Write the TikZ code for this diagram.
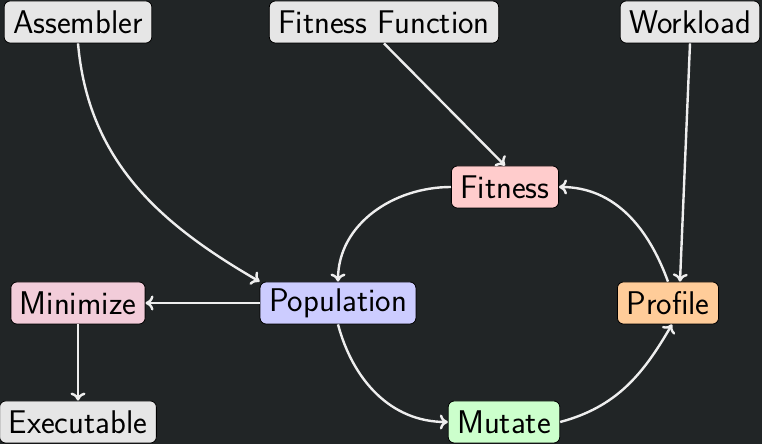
\documentclass[tikz,border=0pt]{standalone}
\usetikzlibrary{arrows.meta,calc}
\definecolor{bg}{HTML}{212526}
\definecolor{edgecol}{HTML}{EEEEEE}
\definecolor{cgray}{HTML}{E6E6E6}
\definecolor{cpink}{HTML}{FFCCCC}
\definecolor{cblue}{HTML}{CCCCFF}
\definecolor{corange}{HTML}{FFCC99}
\definecolor{cgreen}{HTML}{CCFFCC}
\definecolor{crose}{HTML}{F2CCD9}
\begin{document}
\begin{tikzpicture}[x=0.5pt,y=-0.5pt,
  box/.style={draw=black,line width=0.4pt,rounded corners=3pt,
    minimum height=21pt,inner xsep=4.5pt,inner ysep=2pt,
    font=\sffamily\fontsize{16.4}{19}\selectfont,text=black},
  link/.style={draw=edgecol,line width=1.2pt,-{To[length=4pt,width=7.5pt]}}]
  \fill[bg] (0,0) rectangle (762,444);
  \useasboundingbox (0,0) rectangle (762,444);
  % inputs
  \node[box,fill=cgray] (asm) at (78,22) {Assembler};
  \node[box,fill=cgray] (ff) at (384,22) {Fitness Function};
  \node[box,fill=cgray] (wl) at (690,22) {Workload};
  % evolution loop
  \node[box,fill=cpink] (fit) at (505,187) {Fitness};
  \node[box,fill=cblue] (pop) at (338,303) {Population};
  \node[box,fill=cgreen] (mut) at (504,422) {Mutate};
  \node[box,fill=corange] (prof) at (668,303) {Profile};
  % output side
  \node[box,fill=crose] (min) at (78,303) {Minimize};
  \node[box,fill=cgray] (exe) at (78,422) {Executable};
  % connectors
  \draw[link] (asm.south) to[out=-85,in=150] (pop.north west);
  \draw[link] (ff.south) -- (fit.north);
  \draw[link] (wl.south) -- ([xshift=6pt]prof.north);
  \draw[link] (fit.west) to[out=180,in=90] (pop.north);
  \draw[link] (prof.north) to[out=110,in=0] (fit.east);
  \draw[link] (pop.south) to[out=-75,in=180] (mut.west);
  \draw[link] (mut.east) to[out=15,in=-120] ([xshift=2pt]prof.south);
  \draw[link] (pop.west) -- (min.east);
  \draw[link] (min.south) -- (exe.north);
\end{tikzpicture}
\end{document}
